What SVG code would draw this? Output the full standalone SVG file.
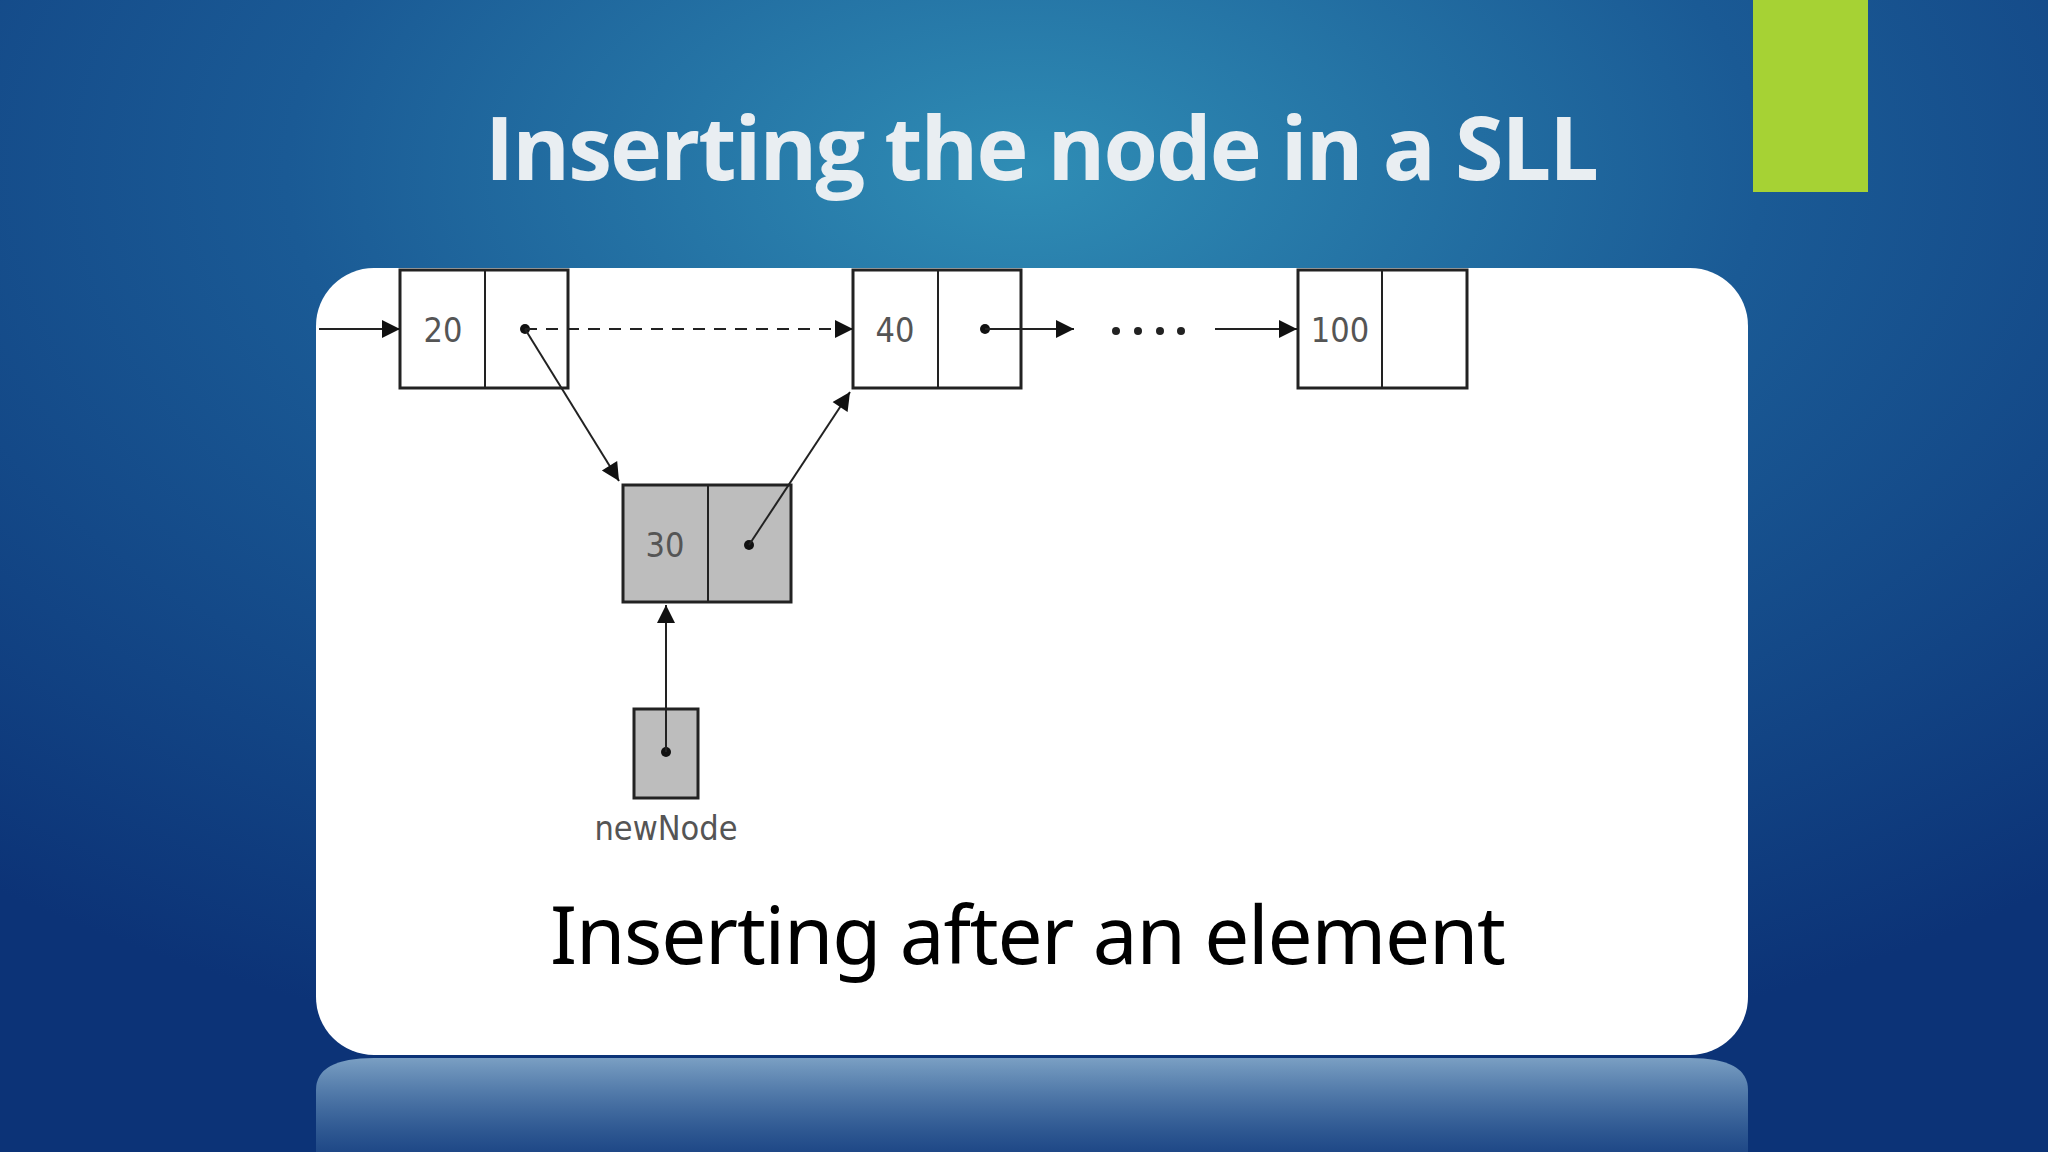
<svg xmlns="http://www.w3.org/2000/svg" width="2048" height="1152" viewBox="0 0 2048 1152">
<defs>
<radialGradient id="bg" cx="0.5" cy="0.15" r="0.8">
<stop offset="0" stop-color="#2f8db5"/>
<stop offset="0.45" stop-color="#1a5a95"/>
<stop offset="1" stop-color="#0c3377"/>
</radialGradient>
<linearGradient id="refl" x1="0" y1="0" x2="0" y2="1">
<stop offset="0" stop-color="#9fc3dc" stop-opacity="0.75"/>
<stop offset="1" stop-color="#6a9cc4" stop-opacity="0.2"/>
</linearGradient>
<marker id="ah" viewBox="0 0 10 10" refX="10" refY="5" markerWidth="10" markerHeight="10" markerUnits="userSpaceOnUse" orient="auto">
<path d="M0,0 L10,5 L0,10 z" fill="#111"/>
</marker>
<marker id="ahb" viewBox="0 0 10 10" refX="10" refY="5" markerWidth="20" markerHeight="18" markerUnits="userSpaceOnUse" orient="auto">
<path d="M0,0 L10,5 L0,10 z" fill="#111"/>
</marker>
<style>
.cell{fill:#fff;stroke:#222;stroke-width:3}
.g{fill:#bdbdbd}
.lbl{font-family:"DejaVu Sans Condensed","Liberation Sans",sans-serif;font-size:34px;fill:#555;text-anchor:middle}
.ln{stroke:#222;stroke-width:2;fill:none}
</style>
</defs>
<rect width="2048" height="1152" fill="url(#bg)"/>
<path d="M316,1152 L316,1090 Q316,1058 374,1058 L1690,1058 Q1748,1058 1748,1090 L1748,1152 z" fill="url(#refl)"/>
<rect x="1753" y="0" width="115" height="192" fill="#a6d234"/>
<text x="1042" y="180" font-family="'Open Sans','DejaVu Sans',sans-serif" font-weight="bold" font-size="88" fill="#e9eef2" text-anchor="middle" textLength="1114">Inserting the node in a SLL</text>
<rect x="316" y="268" width="1432" height="787" rx="58" fill="#fff"/>
<g id="node20"><rect class="cell" x="400" y="270" width="168" height="118"/><line class="ln" x1="485" y1="270" x2="485" y2="388" stroke-width="3"/><text class="lbl" x="443" y="342">20</text><circle cx="525" cy="329" r="5" fill="#111"/></g>
<g id="node40"><rect class="cell" x="853" y="270" width="168" height="118"/><line class="ln" x1="938" y1="270" x2="938" y2="388" stroke-width="3"/><text class="lbl" x="895" y="342">40</text><circle cx="985" cy="329" r="5" fill="#111"/></g>
<g id="node100"><rect class="cell" x="1298" y="270" width="169" height="118"/><line class="ln" x1="1382" y1="270" x2="1382" y2="388" stroke-width="3"/><text class="lbl" x="1340" y="342">100</text></g>
<g id="node30"><rect class="cell g" x="623" y="485" width="168" height="117"/><line class="ln" x1="708" y1="485" x2="708" y2="602" stroke-width="3"/><text class="lbl" x="665" y="557">30</text><circle cx="749" cy="545" r="5" fill="#111"/></g>
<g id="newNode"><rect class="cell g" x="634" y="709" width="64" height="89"/><circle cx="666" cy="752" r="5" fill="#111"/><text class="lbl" x="666" y="840" font-size="30">newNode</text></g>
<g id="connectors">
<line class="ln" x1="319" y1="329" x2="400" y2="329" marker-end="url(#ahb)"/>
<line class="ln" x1="525" y1="329" x2="853" y2="329" stroke-dasharray="12,9" stroke="#444" stroke-width="2.5" marker-end="url(#ahb)"/>
<line class="ln" x1="525" y1="329" x2="619" y2="481" marker-end="url(#ahb)"/>
<line class="ln" x1="749" y1="545" x2="850" y2="392" marker-end="url(#ahb)"/>
<line class="ln" x1="985" y1="329" x2="1074" y2="329" marker-end="url(#ahb)"/>
<line class="ln" x1="1215" y1="329" x2="1297" y2="329" marker-end="url(#ahb)"/>
<line class="ln" x1="666" y1="752" x2="666" y2="605" marker-end="url(#ahb)"/>
<g fill="#222"><circle cx="1116" cy="331" r="4"/><circle cx="1138" cy="331" r="4"/><circle cx="1160" cy="331" r="4"/><circle cx="1181" cy="331" r="4"/></g>
</g>
<text x="1028" y="964" font-family="'Noto Sans','Open Sans',sans-serif" font-size="80" fill="#000" text-anchor="middle" textLength="956">Inserting after an element</text>
</svg>
